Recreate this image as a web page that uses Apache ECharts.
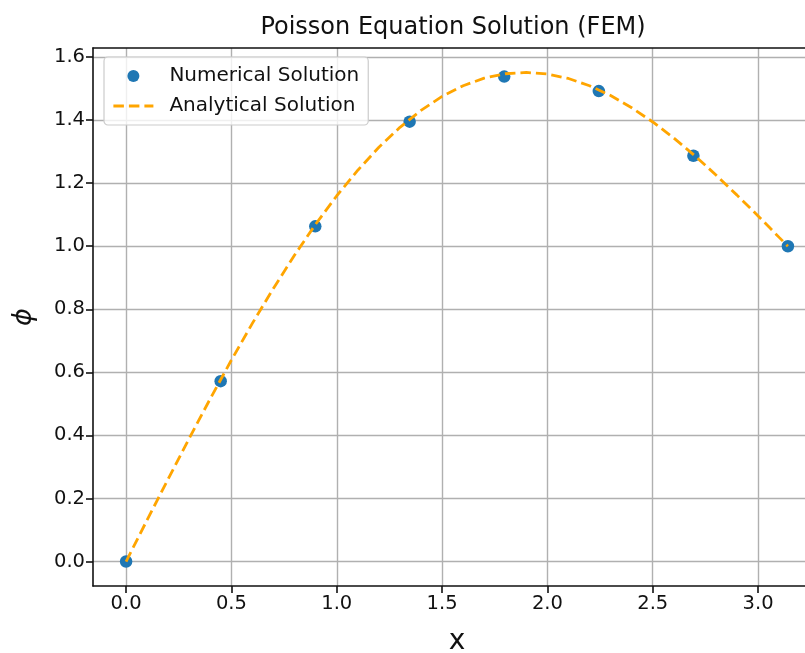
<!DOCTYPE html>
<html>
<head>
<meta charset="utf-8">
<script src="https://cdn.jsdelivr.net/npm/echarts@6/dist/echarts.min.js"></script>
<style>html,body{margin:0;padding:0;background:#fff;}#c{width:805px;height:653px;}</style>
</head>
<body>
<div id="c"></div>
<script>
// Numerical (FEM) nodes
var numX = [0.0, 0.449, 0.898, 1.346, 1.795, 2.244, 2.693, 3.1416];
var numY = [0.0, 0.572, 1.063, 1.395, 1.538, 1.492, 1.287, 1.0];
// Analytical curve, values
var anaX = [0.0, 0.1, 0.2, 0.3, 0.4, 0.5, 0.6, 0.7, 0.8, 0.9, 1.0, 1.1, 1.2, 1.3, 1.4, 1.5, 1.6, 1.7, 1.8, 1.9, 2.0, 2.1, 2.2, 2.3, 2.4, 2.5, 2.6, 2.7, 2.8, 2.9, 3.0, 3.1, 3.1416];
var anaY = [0.0, 0.132, 0.262, 0.391, 0.517, 0.639, 0.756, 0.867, 0.972, 1.070, 1.160, 1.241, 1.314, 1.377, 1.431, 1.475, 1.509, 1.533, 1.547, 1.551, 1.546, 1.532, 1.509, 1.478, 1.439, 1.394, 1.343, 1.287, 1.226, 1.162, 1.096, 1.028, 1.0];
var xTicks = [0.0, 0.5, 1.0, 1.5, 2.0, 2.5, 3.0];
var yTicks = [0.0, 0.2, 0.4, 0.6, 0.8, 1.0, 1.2, 1.4, 1.6];
var titleText = 'Poisson Equation Solution (FEM)';
var xName = 'x';
var yName = '\u03D5';
var seriesNames = ['Numerical Solution', 'Analytical Solution'];

var FONT = 'DejaVu Sans';
function zip(a, b) { return a.map(function (v, i) { return [v, b[i]]; }); }
var DASH = [10.5, 5];
var X_MIN = -0.15708, X_MAX = 3.29867;

var chart = echarts.init(document.getElementById('c'), null, { renderer: 'canvas' });
chart.setOption({
  backgroundColor: '#ffffff',
  animation: false,
  title: {
    text: titleText,
    left: 448,
    textAlign: 'center',
    top: 11,
    textStyle: { fontFamily: FONT, fontSize: 24, fontWeight: 'normal', color: '#111' }
  },
  legend: {
    orient: 'vertical',
    left: 104,
    top: 57,
    padding: [9, 9, 9, 8],
    itemWidth: 40,
    itemHeight: 12,
    itemGap: 10,
    backgroundColor: 'rgba(255,255,255,0.8)',
    borderColor: '#cccccc',
    borderWidth: 1.2,
    borderRadius: 4,
    z: 10,
    textStyle: { fontFamily: FONT, fontSize: 20, color: '#111', lineHeight: 20, padding: [0, 0, 0, 11] },
    data: [
      { name: seriesNames[0] },
      { name: seriesNames[1], itemStyle: { opacity: 0 }, lineStyle: { color: '#ffa500', width: 2.8, type: DASH } }
    ]
  },
  grid: {
    left: 93, top: 48, right: -16, bottom: 67,
    containLabel: false,
    outerBoundsMode: 'none',
    show: false
  },
  xAxis: [{
    type: 'value',
    min: X_MIN, max: X_MAX,
    name: xName, nameLocation: 'middle', nameGap: 42,
    nameTextStyle: { fontFamily: FONT, fontSize: 28, color: '#111' },
    axisLine: { show: true, onZero: false, lineStyle: { color: '#111', width: 1.6 } },
    axisTick: { show: true, length: 7, customValues: xTicks, lineStyle: { color: '#111', width: 1.6 } },
    axisLabel: {
      margin: 8, fontFamily: FONT, fontSize: 19.5, color: '#111',
      customValues: xTicks,
      formatter: function (v) { return Number(v).toFixed(1); }
    },
    splitLine: { show: true, lineStyle: { color: '#b0b0b0', width: 1.4 } }
  }, {
    type: 'value',
    position: 'top',
    min: X_MIN, max: X_MAX,
    axisLine: { show: true, onZero: false, lineStyle: { color: '#111', width: 1.6 } },
    axisTick: { show: false },
    axisLabel: { show: false },
    splitLine: { show: false }
  }],
  yAxis: {
    type: 'value',
    min: -0.0776, max: 1.6286,
    name: yName, nameLocation: 'middle', nameGap: 56, nameRotate: 90,
    nameTextStyle: { fontFamily: FONT, fontSize: 27, fontStyle: 'italic', color: '#111' },
    axisLine: { show: true, onZero: false, lineStyle: { color: '#111', width: 1.6 } },
    axisTick: { show: true, length: 7, customValues: yTicks, lineStyle: { color: '#111', width: 1.6 } },
    axisLabel: {
      margin: 8, fontFamily: FONT, fontSize: 19.5, color: '#111',
      customValues: yTicks,
      formatter: function (v) { return Number(v).toFixed(1); }
    },
    splitLine: { show: true, lineStyle: { color: '#b0b0b0', width: 1.4 } }
  },
  series: [
    {
      name: seriesNames[0],
      type: 'scatter',
      data: zip(numX, numY),
      symbol: 'circle',
      symbolSize: 12.5,
      itemStyle: { color: '#1f77b4', opacity: 1 },
      z: 2
    },
    {
      name: seriesNames[1],
      type: 'line',
      data: zip(anaX, anaY),
      showSymbol: false,
      symbol: 'none',
      smooth: false,
      lineStyle: { color: '#ffa500', width: 2.8, type: DASH },
      itemStyle: { color: '#ffa500' },
      z: 3
    }
  ]
});
</script>
</body>
</html>
